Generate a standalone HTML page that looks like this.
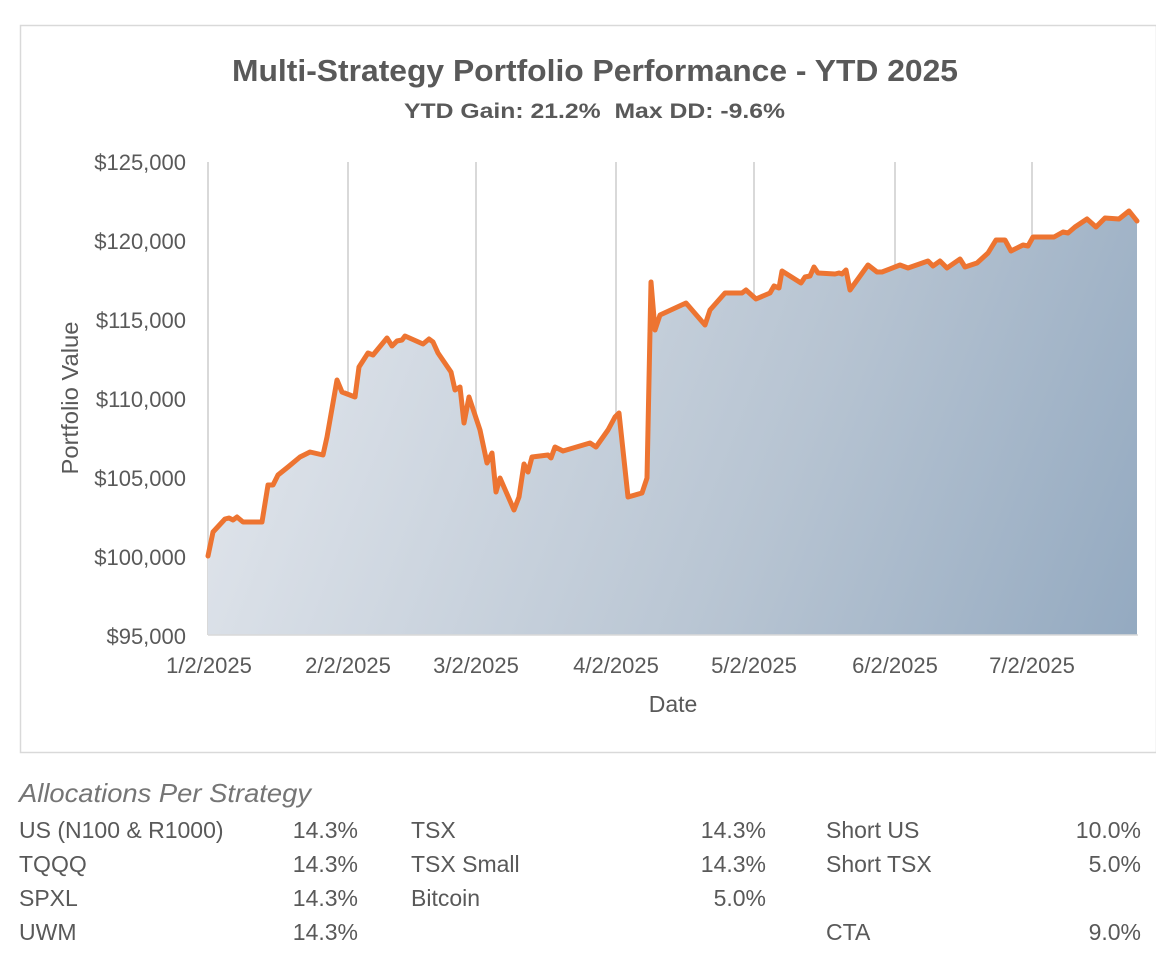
<!DOCTYPE html>
<html><head><meta charset="utf-8"><style>
body{margin:0;background:#fff;}
svg{display:block;font-family:"Liberation Sans",Arial,sans-serif;}
</style></head><body>
<svg width="1156" height="958" viewBox="0 0 1156 958" xmlns="http://www.w3.org/2000/svg">
<defs>
<linearGradient id="g" x1="208" y1="300" x2="1138" y2="660" gradientUnits="userSpaceOnUse">
<stop offset="0" stop-color="#e3e7ed"/><stop offset="0.6" stop-color="#b7c4d2"/><stop offset="1" stop-color="#93a9c0"/>
</linearGradient>
</defs>
<rect x="20.5" y="25.5" width="1136" height="727" fill="#fff" stroke="#d9d9d9" stroke-width="1.5"/>
<text x="232" y="81" textLength="726" lengthAdjust="spacingAndGlyphs" font-size="31" font-weight="bold" fill="#595959">Multi-Strategy Portfolio Performance - YTD 2025</text>
<text x="404" y="118" textLength="381" lengthAdjust="spacingAndGlyphs" font-size="21" font-weight="bold" fill="#595959" xml:space="preserve">YTD Gain: 21.2%  Max DD: -9.6%</text>
<g stroke="#d9d9d9" stroke-width="2">
<line x1="348" y1="162" x2="348" y2="635"/><line x1="476" y1="162" x2="476" y2="635"/><line x1="616" y1="162" x2="616" y2="635"/><line x1="754" y1="162" x2="754" y2="635"/><line x1="895" y1="162" x2="895" y2="635"/><line x1="1032" y1="162" x2="1032" y2="635"/>
<line x1="208" y1="162" x2="208" y2="635"/>
</g>
<polygon fill="url(#g)" points="208,635 208,556 213,532 225,519 229,518 233,520 237,517 243,522 262,522 268,485 273,485 278,475 288,467 300,457 310,452 323,455 327,437 337,380 342,392 355,397 359,367 368,353 373,355 387,338 392,346 397,341 402,340 405,336 423,344 429,339 433,342 438,353 451,372 455,390 460,387 464,423 469,397 480,430 487,463 492,453 496,492 500,478 514,510 519,497 524,464 528,472 532,457 548,455 551,458 555,447 563,451 590,443 596,447 608,430 615,417 619,413 628,497 642,493 647,478 651,282 655,330 660,315 686,303 705,325 710,310 725,293 742,293 746,290 756,299 770,293 774,286 779,288 782,271 801,283 805,277 810,276 814,267 818,273 835,274 839,273 842,274 846,270 850,290 868,265 877,272 882,272 900,265 908,268 928,261 933,266 940,261 947,268 960,259 965,267 977,263 988,253 996,240 1005,240 1011,251 1023,245 1028,246 1033,237 1054,237 1063,232 1068,233 1075,227 1087,219 1096,227 1105,218 1119,219 1129,211 1137,221 1137,635"/>
<line x1="208" y1="635" x2="1138" y2="635" stroke="#d9d9d9" stroke-width="1.5"/>
<polyline fill="none" stroke="#ed7431" stroke-width="5" stroke-linejoin="round" stroke-linecap="round" points="208,556 213,532 225,519 229,518 233,520 237,517 243,522 262,522 268,485 273,485 278,475 288,467 300,457 310,452 323,455 327,437 337,380 342,392 355,397 359,367 368,353 373,355 387,338 392,346 397,341 402,340 405,336 423,344 429,339 433,342 438,353 451,372 455,390 460,387 464,423 469,397 480,430 487,463 492,453 496,492 500,478 514,510 519,497 524,464 528,472 532,457 548,455 551,458 555,447 563,451 590,443 596,447 608,430 615,417 619,413 628,497 642,493 647,478 651,282 655,330 660,315 686,303 705,325 710,310 725,293 742,293 746,290 756,299 770,293 774,286 779,288 782,271 801,283 805,277 810,276 814,267 818,273 835,274 839,273 842,274 846,270 850,290 868,265 877,272 882,272 900,265 908,268 928,261 933,266 940,261 947,268 960,259 965,267 977,263 988,253 996,240 1005,240 1011,251 1023,245 1028,246 1033,237 1054,237 1063,232 1068,233 1075,227 1087,219 1096,227 1105,218 1119,219 1129,211 1137,221"/>
<g font-size="22" fill="#595959" text-anchor="end">
<text x="186" y="170">$125,000</text><text x="186" y="249">$120,000</text><text x="186" y="328">$115,000</text><text x="186" y="407">$110,000</text><text x="186" y="486">$105,000</text><text x="186" y="565">$100,000</text><text x="186" y="644">$95,000</text>
</g>
<g font-size="22" fill="#595959" text-anchor="middle">
<text x="209" y="673">1/2/2025</text><text x="348" y="673">2/2/2025</text><text x="476" y="673">3/2/2025</text><text x="616" y="673">4/2/2025</text><text x="754" y="673">5/2/2025</text><text x="895" y="673">6/2/2025</text><text x="1032" y="673">7/2/2025</text>
<text x="673" y="712" font-size="23">Date</text>
<text transform="translate(78,398) rotate(-90)" font-size="23" textLength="153" lengthAdjust="spacingAndGlyphs">Portfolio Value</text>
</g>
<text x="19" y="802" font-size="26" font-style="italic" fill="#757575" textLength="292" lengthAdjust="spacingAndGlyphs">Allocations Per Strategy</text>
<g font-size="23" fill="#595959">
<text x="19" y="838">US (N100 &amp; R1000)</text><text x="19" y="872">TQQQ</text><text x="19" y="906">SPXL</text><text x="19" y="940">UWM</text>
<text x="411" y="838">TSX</text><text x="411" y="872">TSX Small</text><text x="411" y="906">Bitcoin</text>
<text x="826" y="838">Short US</text><text x="826" y="872">Short TSX</text><text x="826" y="940">CTA</text>
</g>
<g font-size="23" fill="#595959" text-anchor="end">
<text x="358" y="838">14.3%</text><text x="358" y="872">14.3%</text><text x="358" y="906">14.3%</text><text x="358" y="940">14.3%</text>
<text x="766" y="838">14.3%</text><text x="766" y="872">14.3%</text><text x="766" y="906">5.0%</text>
<text x="1141" y="838">10.0%</text><text x="1141" y="872">5.0%</text><text x="1141" y="940">9.0%</text>
</g>
</svg>
</body></html>
